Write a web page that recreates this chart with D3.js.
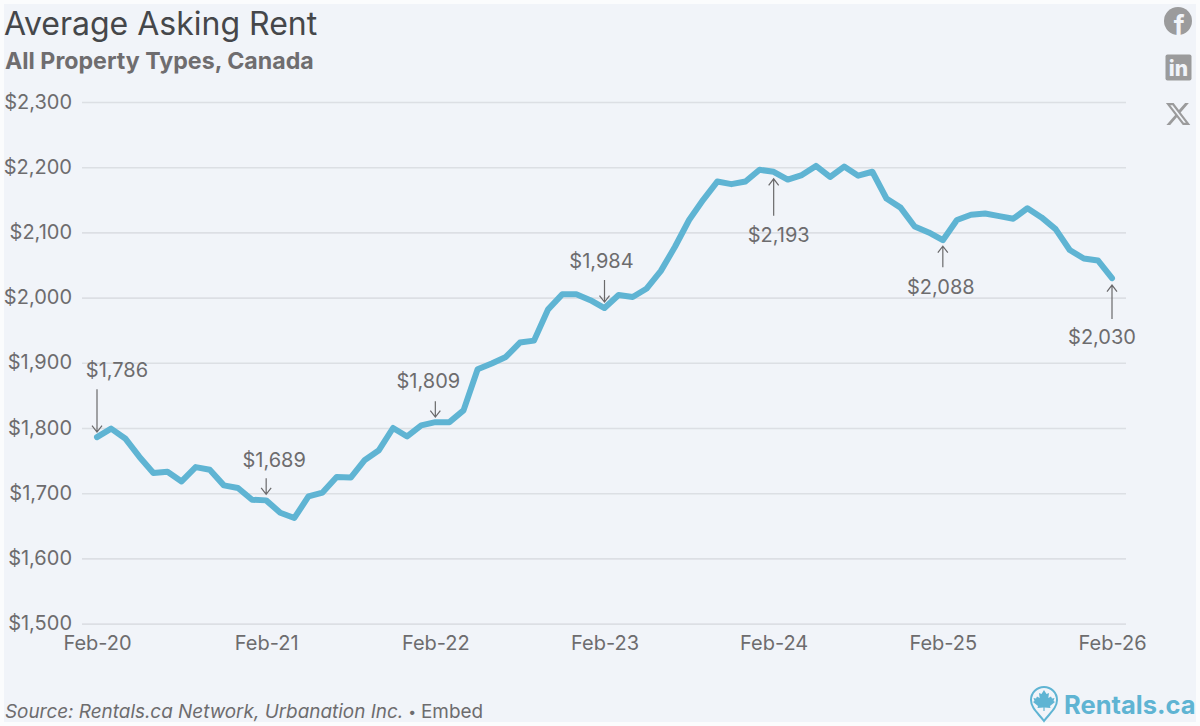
<!DOCTYPE html>
<html>
<head>
<meta charset="utf-8">
<script src="https://cdn.jsdelivr.net/npm/d3@7"></script>
<style>
html,body{margin:0;padding:0;background:#fbfcfd;}
svg{display:block;font-family:Inter,"Noto Sans",sans-serif;}
</style>
</head>
<body>
<svg id="chart" width="1200" height="726"></svg>
<script>
const rentValues = [1786,1799,1784,1756,1731,1733,1718,1740,1736,1712,1708,1690,1689,1670,1662,1695,1701,1725,1724,1751,1766,1800,1787,1804,1809,1809,1827,1890,1899,1909,1931,1934,1982,2005,2005,1996,1984,2004,2001,2014,2041,2078,2119,2150,2178,2174,2178,2196,2193,2181,2188,2202,2185,2201,2187,2193,2152,2138,2109,2100,2088,2119,2127,2129,2125,2121,2137,2123,2105,2073,2060,2057,2030];
const yTicks = [1500,1600,1700,1800,1900,2000,2100,2200,2300];
const xTickIndex = [0,12,24,36,48,60,72];
const xTickLabels = ["Feb-20","Feb-21","Feb-22","Feb-23","Feb-24","Feb-25","Feb-26"];
const noteIndex = [0,12,24,36,48,60,72];
const noteLabels = ["$1,786","$1,689","$1,809","$1,984","$2,193","$2,088","$2,030"];

const svg = d3.select("#chart");
const x = d3.scaleLinear().domain([0,72]).range([97,1112]);
const y = d3.scaleLinear().domain([1500,2300]).range([623.6,102]);
const TXT = "#6d6c6e";

svg.append("rect").attr("x",4).attr("y",4).attr("width",1192).attr("height",718).attr("fill","#f1f4f9");

svg.append("text").attr("x",4).attr("y",35).attr("font-size",32).attr("font-weight",400).attr("fill","#45474a").text("Average Asking Rent");
svg.append("text").attr("x",5).attr("y",69).attr("font-size",23.2).attr("font-weight",700).attr("fill","#6f6d6f").text("All Property Types, Canada");

// y axis + gridlines
const yAxis = d3.axisLeft(y).tickValues(yTicks).tickSize(1044).tickPadding(10).tickFormat(d3.format("$,"));
const gy = svg.append("g").attr("transform","translate(1126,0)").call(yAxis);
gy.select(".domain").remove();
gy.selectAll("line").attr("stroke","#dcdfe4").attr("stroke-width",1.6);
gy.selectAll("text").attr("font-size",20).attr("font-family","Inter").attr("fill",TXT).attr("dy","0.3em");

// x axis
const xAxis = d3.axisBottom(x).tickValues(xTickIndex).tickSize(0).tickPadding(0).tickFormat((d,i)=>xTickLabels[i]);
const gx = svg.append("g").attr("transform","translate(0,636)").call(xAxis);
gx.select(".domain").remove();
gx.selectAll("text").attr("font-size",20).attr("font-family","Inter").attr("fill",TXT).attr("dy","0.71em");

// line
const line = d3.line().x((d,i)=>x(i)).y(d=>y(d));
svg.append("path").datum(rentValues).attr("d",line).attr("fill","none").attr("stroke","#5fb4d3").attr("stroke-width",6).attr("stroke-linejoin","round").attr("stroke-linecap","round");

// annotations: direction, gap from mark to arrow tip, arrow length, label offset, label dx
const noteLayout = [
  {dir:-1,gap:5,len:43,lab:12,dx:20},
  {dir:-1,gap:6,len:16,lab:11,dx:8},
  {dir:-1,gap:5,len:16,lab:13,dx:-7},
  {dir:-1,gap:6,len:22,lab:12,dx:-3},
  {dir:1,gap:7,len:37,lab:26,dx:5},
  {dir:1,gap:6,len:21,lab:27,dx:-2},
  {dir:1,gap:7,len:34,lab:25,dx:-10}
];
noteIndex.forEach((idx,k)=>{
  const L = noteLayout[k], px = x(idx), py = y(rentValues[idx]);
  const tip = py + L.dir*L.gap, tail = tip + L.dir*L.len;
  const g = svg.append("g");
  g.append("path")
   .attr("d",`M${px},${tail}L${px},${tip}M${px-5},${tip+L.dir*6.5}L${px},${tip}L${px+5},${tip+L.dir*6.5}`)
   .attr("fill","none").attr("stroke","#6a696b").attr("stroke-width",1.2);
  g.append("text").attr("x",px+L.dx).attr("y",tail+(L.dir>0?L.lab:-L.lab)).attr("text-anchor","middle")
   .attr("font-size",20).attr("fill",TXT).text(noteLabels[k]);
});

// footer
const src = svg.append("text").attr("x",5).attr("y",718).attr("font-size",18.9).attr("fill",TXT);
src.append("tspan").attr("font-style","italic").text("Source: Rentals.ca Network, Urbanation Inc.");
src.append("tspan").attr("dx",5).attr("font-size",14).attr("dy",-1).text("•");
src.append("tspan").attr("dx",5).attr("dy",1).text("Embed");

// social icons
const G = "#9b9b9c", BG = "#f1f4f9";
svg.append("circle").attr("cx",1178).attr("cy",21).attr("r",14).attr("fill",G);
svg.append("text").attr("x",1179).attr("y",35).attr("text-anchor","middle").attr("font-size",27).attr("font-weight",700).attr("fill",BG).text("f");
svg.append("rect").attr("x",1165.5).attr("y",54.5).attr("width",26).attr("height",26).attr("rx",2).attr("fill",G);
svg.append("text").attr("x",1178.5).attr("y",76).attr("text-anchor","middle").attr("font-size",21).attr("font-weight",800).attr("fill",BG).text("in");
svg.append("path").attr("transform","translate(1164.5,100.5) scale(1.13)")
  .attr("d","M18.244 2.25h3.308l-7.227 8.26 8.502 11.24H16.17l-5.214-6.817L4.99 21.75H1.68l7.73-8.835L1.254 2.25H8.08l4.713 6.231zm-1.161 17.52h1.833L7.084 4.126H5.117z").attr("fill",G);

// logo
const B = "#5fb4d3";
svg.append("path").attr("d","M1044,721 C1038,713 1031,708 1031,700 A13,13 0 0 1 1057,700 C1057,708 1050,713 1044,721 Z")
  .attr("fill","none").attr("stroke",B).attr("stroke-width",2);
svg.append("path").attr("d","M1044,690 L1046.5,694 L1049,693 L1048.3,698 L1051,696.5 L1052,698.5 L1054.5,698 L1053.5,701 L1055,702 L1050,706 L1050.5,708 L1044.6,707.4 L1044.6,711 L1043.4,711 L1043.4,707.4 L1037.5,708 L1038,706 L1033,702 L1034.5,701 L1033.5,698 L1036,698.5 L1037,696.5 L1039.7,698 L1039,693 L1041.5,694 Z").attr("fill",B);
svg.append("text").attr("x",1064).attr("y",713.5).attr("font-size",25.5).attr("font-weight",700).attr("fill",B).text("Rentals.ca");
</script>
</body>
</html>
